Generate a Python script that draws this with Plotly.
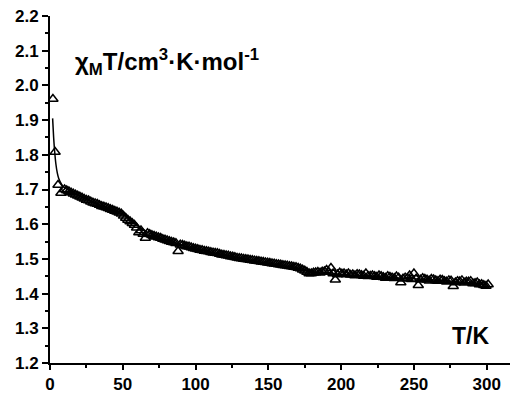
import plotly.graph_objects as go

# Measured data (open triangles)
T_data = [2, 3.5, 5.5, 7.5,
          10, 13, 16, 19, 22, 25, 28, 31, 34, 37, 40, 43, 46, 49, 52, 55, 58, 61, 64, 67,
          70, 73, 76, 79, 82, 85, 88, 91, 94, 97, 100, 103, 106, 109, 112, 115, 118, 121,
          124, 127, 130, 133, 136, 139, 142, 145, 148, 151, 154, 157, 160, 163, 166, 169,
          172, 175, 178, 181, 184, 187, 190, 193, 196, 199, 202, 205, 208, 211, 214, 217,
          220, 223, 226, 229, 232, 235, 238, 241, 244, 247, 250, 253, 256, 259, 262, 265,
          268, 271, 274, 277, 280, 283, 286, 289, 292, 295, 298, 301]
chiT_data = [1.961, 1.808, 1.713, 1.690,
             1.700, 1.694, 1.688, 1.682, 1.676, 1.670, 1.665, 1.660, 1.655, 1.650, 1.646,
             1.641, 1.636, 1.630, 1.618, 1.608, 1.598, 1.576, 1.572, 1.574, 1.568, 1.564,
             1.560, 1.555, 1.551, 1.547, 1.522, 1.540, 1.536, 1.533, 1.529, 1.526, 1.523,
             1.521, 1.518, 1.516, 1.512, 1.510, 1.507, 1.505, 1.502, 1.500, 1.498, 1.496,
             1.494, 1.492, 1.490, 1.488, 1.486, 1.484, 1.482, 1.480, 1.478, 1.476, 1.472,
             1.466, 1.458, 1.460, 1.462, 1.463, 1.468, 1.474, 1.440, 1.460, 1.458, 1.458,
             1.455, 1.456, 1.453, 1.458, 1.451, 1.450, 1.452, 1.447, 1.450, 1.446, 1.449,
             1.432, 1.446, 1.452, 1.458, 1.424, 1.444, 1.440, 1.442, 1.438, 1.440, 1.436,
             1.438, 1.421, 1.436, 1.438, 1.434, 1.436, 1.430, 1.426, 1.424, 1.426]

# Second interleaved set of measured points
T_data2 = [11.5, 14.5, 17.5, 20.5, 23.5, 26.5, 29.5, 32.5, 35.5, 38.5, 41.5, 44.5, 47.5,
           50.5, 53.5, 56.5, 59.5, 62.5, 65.5, 68.5, 71.5, 74.5, 77.5, 80.5, 83.5, 86.5,
           89.5, 92.5, 95.5, 98.5, 101.5, 104.5, 107.5, 110.5, 113.5, 116.5, 119.5, 122.5,
           125.5, 128.5, 131.5, 134.5, 137.5, 140.5, 143.5, 146.5, 149.5, 152.5, 155.5,
           158.5, 161.5, 164.5, 167.5, 170.5, 173.5, 176.5, 179.5, 182.5, 185.5, 188.5,
           191.5, 194.5, 197.5, 200.5, 203.5, 206.5, 209.5, 212.5, 215.5, 218.5, 221.5,
           224.5, 227.5, 230.5, 233.5, 236.5, 239.5, 242.5, 245.5, 248.5, 251.5, 254.5,
           257.5, 260.5, 263.5, 266.5, 269.5, 272.5, 275.5, 278.5, 281.5, 284.5, 287.5,
           290.5, 293.5, 296.5, 299.5]
chiT_data2 = [1.697, 1.691, 1.685, 1.679, 1.673, 1.668, 1.662, 1.658, 1.652, 1.648, 1.643,
              1.638, 1.633, 1.624, 1.612, 1.603, 1.590, 1.582, 1.560, 1.571, 1.566, 1.562,
              1.557, 1.553, 1.549, 1.545, 1.541, 1.538, 1.535, 1.531, 1.528, 1.525, 1.522,
              1.519, 1.517, 1.514, 1.511, 1.509, 1.506, 1.503, 1.501, 1.499, 1.497, 1.495,
              1.493, 1.491, 1.489, 1.487, 1.485, 1.483, 1.481, 1.479, 1.477, 1.474, 1.469,
              1.462, 1.458, 1.461, 1.460, 1.464, 1.462, 1.458, 1.455, 1.457, 1.455, 1.454,
              1.452, 1.455, 1.451, 1.450, 1.452, 1.448, 1.450, 1.445, 1.448, 1.444, 1.446,
              1.443, 1.444, 1.441, 1.443, 1.440, 1.442, 1.437, 1.441, 1.436, 1.439, 1.434,
              1.437, 1.432, 1.435, 1.431, 1.434, 1.429, 1.432, 1.427, 1.422]

# Fit curve (solid line)
T_fit = [1.8, 2.5, 3, 4, 5, 6, 8, 10, 15, 20, 30, 40, 50, 55, 60, 65, 70, 80, 90, 100,
         120, 140, 160, 170, 180, 190, 200, 220, 240, 260, 280, 300]
chiT_fit = [1.905, 1.850, 1.820, 1.775, 1.748, 1.732, 1.715, 1.705, 1.692, 1.682, 1.662,
            1.646, 1.629, 1.612, 1.596, 1.582, 1.570, 1.554, 1.541, 1.529, 1.511, 1.495,
            1.481, 1.474, 1.462, 1.458, 1.455, 1.450, 1.445, 1.440, 1.434, 1.426]

x_ticks = [0, 50, 100, 150, 200, 250, 300]
y_ticks = [1.2, 1.3, 1.4, 1.5, 1.6, 1.7, 1.8, 1.9, 2.0, 2.1, 2.2]

FONT = "Liberation Sans, Arial, sans-serif"

fig = go.Figure()
fig.add_trace(go.Scatter(
    x=T_data + T_data2, y=chiT_data + chiT_data2, mode="markers",
    marker=dict(symbol="triangle-up-open", size=9, color="black", line=dict(width=1.5, color="black")),
    showlegend=False))
fig.add_trace(go.Scatter(
    x=T_fit, y=chiT_fit, mode="lines", line=dict(color="black", width=1.5, shape="spline"),
    showlegend=False))

fig.update_layout(
    width=511, height=394,
    margin=dict(l=50, r=1, t=16, b=31),
    paper_bgcolor="white", plot_bgcolor="white",
    font=dict(family=FONT, color="black"),
    xaxis=dict(range=[0, 316], tickvals=x_ticks, ticktext=[f"<b>{v}</b>" for v in x_ticks],
               showgrid=False, zeroline=False, showline=True, linecolor="black", linewidth=2,
               ticks="outside", ticklen=5, tickwidth=2, tickcolor="black",
               tickfont=dict(family=FONT, size=17, color="black"),
               minor=dict(dtick=25, tick0=0, ticks="outside", ticklen=3, tickwidth=1.5, tickcolor="black")),
    yaxis=dict(range=[1.2, 2.2], tickvals=y_ticks, ticktext=[f"<b>{v:.1f}</b>" for v in y_ticks],
               showgrid=False, zeroline=False, showline=True, linecolor="black", linewidth=2,
               ticks="outside", ticklen=6, tickwidth=2, tickcolor="black",
               tickfont=dict(family=FONT, size=17, color="black"),
               minor=dict(dtick=0.05, tick0=1.2, ticks="outside", ticklen=3, tickwidth=1.5, tickcolor="black")),
    annotations=[
        dict(x=16, y=2.067, xref="x", yref="y", xanchor="left", yanchor="middle", showarrow=False,
             text="<b>χ<sub>M</sub>T/cm<sup>3</sup>·K·mol<sup>-1</sup></b>",
             font=dict(family=FONT, size=24, color="black")),
        dict(x=303, y=1.278, xref="x", yref="y", xanchor="right", yanchor="middle", showarrow=False,
             text="<b>T/K</b>", font=dict(family=FONT, size=23, color="black")),
    ],
)

fig.write_html("out.html", config={"displayModeBar": False},
               post_script="document.body.style.margin='0';document.body.style.overflow='hidden';")
